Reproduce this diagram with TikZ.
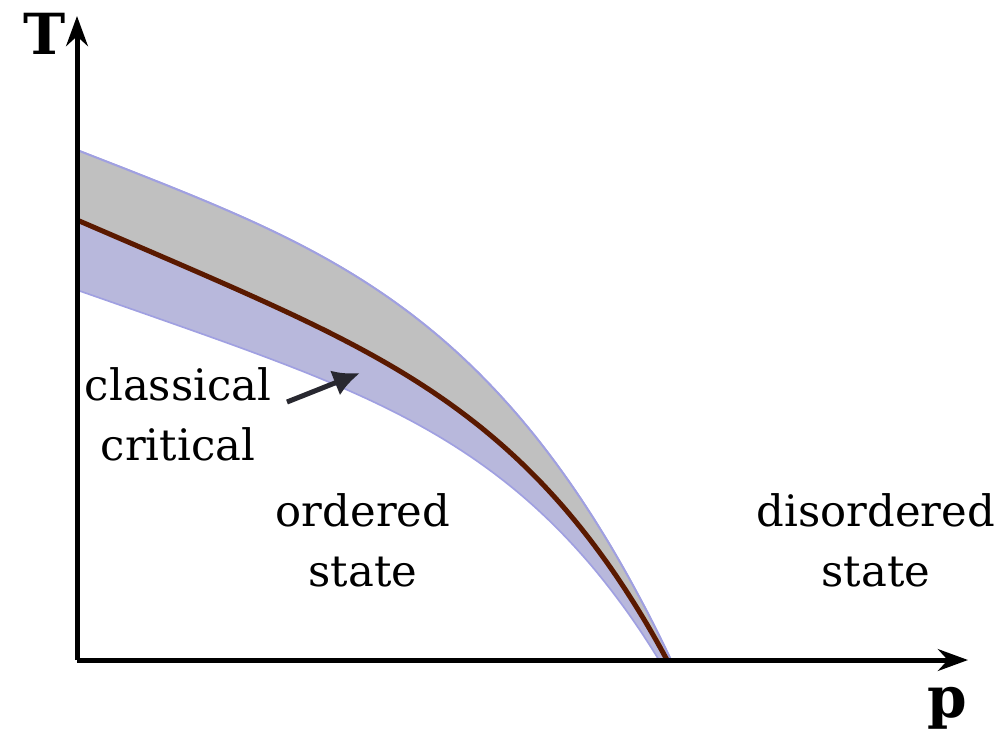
\documentclass[tikz,border=0pt]{standalone}
\usepackage{fontspec}
\setmainfont{DejaVu Serif}
\usetikzlibrary{arrows.meta}
\definecolor{bandgray}{RGB}{192,192,192}
\definecolor{bandblue}{RGB}{184,184,220}
\definecolor{bandedge}{RGB}{160,160,225}
\definecolor{critbrown}{RGB}{90,25,0}
\definecolor{pointer}{RGB}{40,40,48}

\begin{document}
\begin{tikzpicture}[x=0.3pt, y=-0.3pt,
  axis/.style={line width=1.5pt, -{Stealth[length=9pt, width=6.5pt]}},
  lbl/.style={font=\fontsize{13}{18}\selectfont, align=center, inner sep=0pt},
  axlbl/.style={font=\fontsize{17}{17}\selectfont\bfseries, inner sep=0pt},
  pointarr/.style={pointer, line width=1.5pt, -{Latex[length=8pt, width=8pt]}},
  smp/.style={samples=100, smooth}
]
\useasboundingbox (0,0) rectangle (998,735);

% uncertainty band round the critical line
\fill[bandblue, draw=bandedge, line width=0.5pt]
  plot[smp, domain=0.001:1] ({77+594*\x}, {660-510*(1-0.454*\x-0.546*\x^3.66)})
  -- plot[smp, domain=1:0.001] ({77+582*\x}, {660-370*(1-0.55*\x-0.45*\x^4.47)})
  -- cycle;
\fill[bandgray]
  plot[smp, domain=0.001:1] ({77+594*\x}, {660-510*(1-0.454*\x-0.546*\x^3.66)})
  -- plot[smp, domain=1:0.001] ({77+590*\x}, {660-440*(1-0.577*\x-0.423*\x^4.52)})
  -- cycle;
\draw[bandedge, line width=0.6pt]
  plot[smp, domain=0.001:1] ({77+594*\x}, {660-510*(1-0.454*\x-0.546*\x^3.66)});

% critical line
\draw[critbrown, line width=1.5pt]
  plot[smp, domain=0.001:1] ({77+590*\x}, {660-440*(1-0.577*\x-0.423*\x^4.52)});

% axes
\coordinate (origin) at (77,660);
\coordinate (tend) at (77,16);
\coordinate (pend) at (968,660);
\draw[axis] (origin) -- (tend);
\draw[axis] (origin) -- (pend);
\node[axlbl] (tlabel) at (45,34) {T};
\node[axlbl] (plabel) at (947,708) {p};

% labels
\node[lbl] (classical) at (178,414) {classical\\critical};
\node[lbl] (ordered)   at (363,540) {ordered\\state};
\node[lbl] (disordered) at (876,540) {disordered\\state};

\coordinate (ptail) at (287,402);
\coordinate (phead) at (360,373);
\draw[pointarr] (ptail) -- (phead);
\end{tikzpicture}
\end{document}
